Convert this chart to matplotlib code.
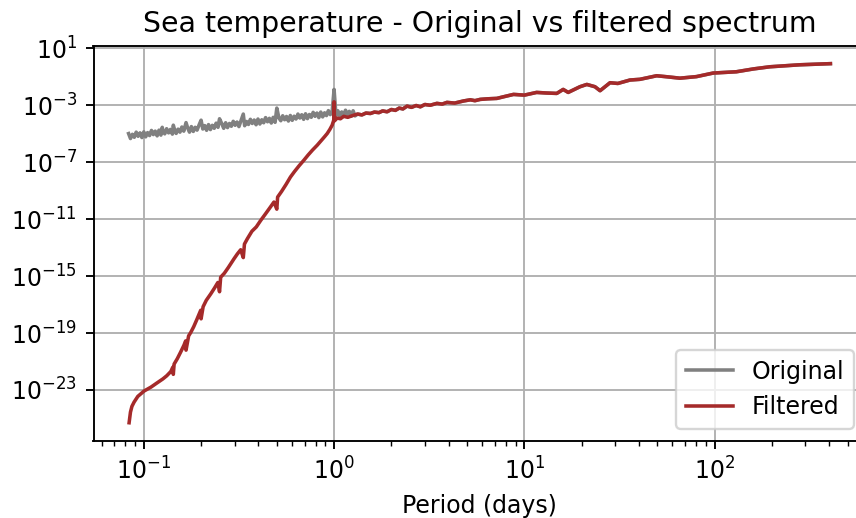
import numpy as np
import matplotlib
matplotlib.use("Agg")
import matplotlib.pyplot as plt

# original spectrum (period in days, log10 of power)
orig_period = [0.08318, 0.08511, 0.08710, 0.08913, 0.09120, 0.09333, 0.09550, 0.09772, 0.1000, 0.1023,
               0.1047, 0.1072, 0.1097, 0.1122, 0.1148, 0.1175, 0.1202, 0.1230, 0.1250, 0.1259,
               0.1288, 0.1318, 0.1349, 0.1380, 0.1413, 0.1429, 0.1445, 0.1479, 0.1514, 0.1549,
               0.1585, 0.1622, 0.1667, 0.1698, 0.1738, 0.1778, 0.1820, 0.1862, 0.1905, 0.1950,
               0.2000, 0.2042, 0.2089, 0.2138, 0.2188, 0.2239, 0.2291, 0.2344, 0.2399, 0.2455,
               0.2500, 0.2570, 0.2630, 0.2692, 0.2754, 0.2818, 0.2884, 0.2951, 0.3020, 0.3090,
               0.3162, 0.3236, 0.3333, 0.3388, 0.3467, 0.3548, 0.3631, 0.3715, 0.3802, 0.3891,
               0.3981, 0.4074, 0.4169, 0.4266, 0.4365, 0.4467, 0.4571, 0.4677, 0.4786, 0.4898,
               0.5000, 0.5129, 0.5248, 0.5370, 0.5495, 0.5623, 0.5754, 0.5888, 0.6026, 0.6166,
               0.6310, 0.6457, 0.6607, 0.6761, 0.6918, 0.7079, 0.7244, 0.7413, 0.7586, 0.7762,
               0.7943, 0.8128, 0.8318, 0.8511, 0.8710, 0.8913, 0.9120, 0.9333, 0.9550, 0.9772,
               1.0000, 1.0233, 1.0471, 1.0715, 1.0965, 1.1220, 1.1482, 1.1749, 1.2023, 1.2303,
               1.2589, 1.2883]
orig_logpow = [-4.99, -5.34, -5.04, -5.25, -4.89, -5.18, -4.94, -5.27, -4.87, -5.22,
               -4.92, -5.13, -4.77, -5.06, -4.82, -5.15, -4.75, -5.10, -4.55, -4.80,
               -5.01, -4.65, -4.94, -4.70, -5.03, -4.40, -4.63, -4.98, -4.68, -4.89,
               -4.53, -4.82, -4.22, -4.57, -4.89, -4.50, -4.84, -4.55, -4.75, -4.40,
               -4.05, -4.67, -4.43, -4.76, -4.36, -4.71, -4.41, -4.62, -4.26, -4.55,
               -3.95, -4.30, -4.62, -4.23, -4.57, -4.28, -4.48, -4.13, -4.41, -4.18,
               -4.50, -4.11, -3.62, -4.44, -4.14, -4.35, -3.99, -4.28, -4.04, -4.37,
               -3.97, -4.32, -4.02, -4.23, -3.87, -4.16, -3.92, -4.25, -3.85, -4.20,
               -3.20, -3.89, -4.09, -3.74, -4.02, -3.79, -4.11, -3.72, -4.06, -3.77,
               -3.97, -3.62, -3.90, -3.67, -3.99, -3.60, -3.94, -3.65, -3.85, -3.50,
               -3.78, -3.55, -3.87, -3.48, -3.82, -3.53, -3.73, -3.38, -3.66, -3.43,
               -1.89, -3.72, -3.39, -3.75, -3.47, -3.69, -3.35, -3.65, -3.43, -3.77,
               -3.39, -3.75]

# filtered spectrum
filt_period = [0.0837, 0.0851, 0.0866, 0.0889, 0.0930, 0.1004, 0.1090, 0.1180, 0.1260, 0.1320,
               0.1387, 0.1420, 0.1429, 0.1443, 0.1500, 0.1560, 0.1626, 0.1660, 0.1667, 0.1720,
               0.1765, 0.1830, 0.1900, 0.1991, 0.2000, 0.2050, 0.2130, 0.2248, 0.2350, 0.2450,
               0.2500, 0.2535, 0.2650, 0.2780, 0.2977, 0.3100, 0.3230, 0.3333, 0.3380, 0.3500,
               0.3700, 0.3900, 0.4115, 0.4350, 0.4600, 0.4830, 0.5000, 0.5050, 0.5300, 0.5600,
               0.5900, 0.6200, 0.6550, 0.6930, 0.7300, 0.7700, 0.8150, 0.8600, 0.8900, 0.9200,
               0.9500, 0.9770, 0.9960, 1.0000, 1.0050, 1.0380, 1.0800, 1.1240, 1.1800, 1.2680,
               1.3300, 1.4000, 1.4700, 1.5520, 1.6300, 1.7200, 1.8000, 1.9000, 2.0000, 2.1000,
               2.2000, 2.3000, 2.4200, 2.5500, 2.7000, 2.8400, 3.0000, 3.2000, 3.4700, 3.7000,
               3.9200, 4.3000, 4.7900, 5.2000, 5.5000, 5.8600, 6.4000, 7.1700, 7.8000, 8.7700,
               10.000, 11.600, 13.000, 14.800, 16.000, 17.000, 19.600, 21.300, 23.500, 25.000,
               28.200, 31.000, 35.900, 40.500, 49.600, 56.000, 65.700, 80.300, 98.200, 130.00,
               160.00, 195.00, 280.00, 406.00]
filt_logpow = [-25.30, -24.55, -24.15, -23.85, -23.45, -23.07, -22.80, -22.48, -22.22, -22.00,
               -21.70, -21.40, -21.90, -21.18, -20.80, -20.35, -19.85, -19.55, -20.20, -19.20,
               -18.96, -18.55, -18.05, -17.40, -18.00, -17.15, -16.70, -16.25, -15.85, -15.45,
               -16.10, -15.08, -14.80, -14.40, -13.79, -13.45, -13.15, -13.70, -12.75, -12.38,
               -11.85, -11.55, -11.09, -10.65, -10.20, -9.80, -10.30, -9.45, -9.05, -8.55,
               -8.04, -7.65, -7.25, -6.87, -6.50, -6.15, -5.81, -5.45, -5.22, -4.99,
               -4.70, -4.40, -4.05, -2.76, -4.10, -3.90, -3.95, -3.78, -3.85, -3.70,
               -3.62, -3.68, -3.55, -3.58, -3.48, -3.52, -3.40, -3.46, -3.30, -3.36,
               -3.20, -3.26, -3.06, -3.15, -3.02, -3.11, -2.95, -3.00, -2.87, -2.92,
               -2.80, -2.85, -2.70, -2.62, -2.68, -2.59, -2.55, -2.52, -2.40, -2.24,
               -2.29, -2.10, -2.14, -2.17, -1.89, -2.10, -1.70, -1.54, -1.70, -1.98,
               -1.42, -1.47, -1.23, -1.18, -0.93, -1.00, -1.10, -0.99, -0.74, -0.65,
               -0.45, -0.30, -0.16, -0.08]

# original and filtered are the same above ~1.3 days
tail = [i for i, p in enumerate(filt_period) if p > 1.3]
orig_p = np.array(orig_period + [filt_period[i] for i in tail])
orig_y = 10.0 ** np.array(orig_logpow + [filt_logpow[i] for i in tail])
filt_p = np.array(filt_period)
filt_y = 10.0 ** np.array(filt_logpow)

dpi = 170
fig = plt.figure(figsize=(856 / dpi, 518 / dpi), dpi=dpi)
ax = fig.add_axes([93.5 / 856, 77.3 / 518, 772 / 856, 395 / 518])

ax.plot(orig_p, orig_y, color='grey', label='Original')
ax.plot(filt_p, filt_y, color='brown', label='Filtered')
ax.set_xscale('log')
ax.set_yscale('log')
ax.set_yticks(10.0 ** np.arange(1, -24, -4))

ax.set_xlabel("Period (days)")
ax.set_title("Sea temperature - Original vs filtered spectrum")
ax.legend(loc='lower right')
ax.grid(True)

fig.savefig("out.png", dpi=dpi)
